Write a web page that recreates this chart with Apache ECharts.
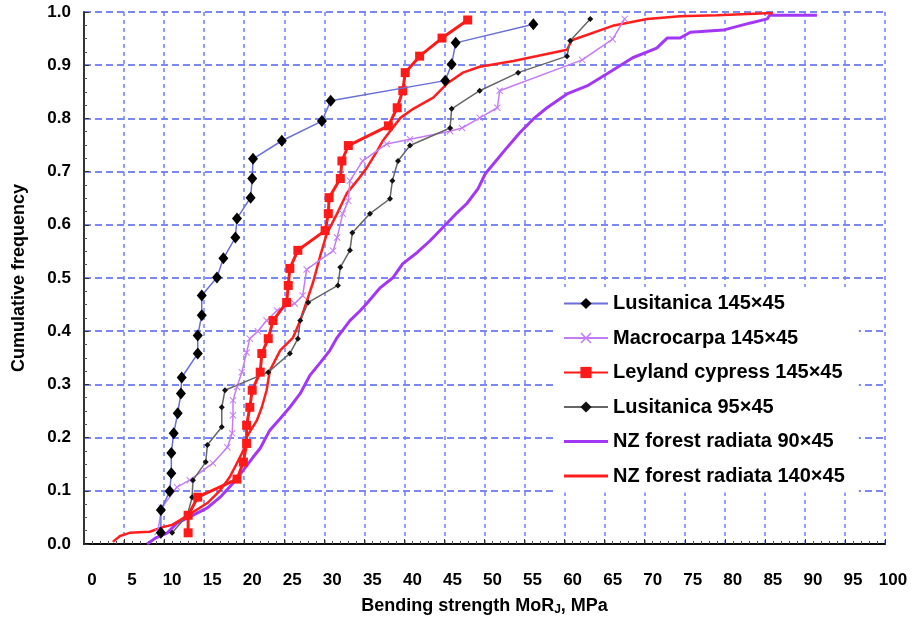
<!DOCTYPE html>
<html>
<head>
<meta charset="utf-8">
<script src="https://cdn.jsdelivr.net/npm/echarts@6/dist/echarts.min.js"></script>
<style>
  html, body { margin: 0; padding: 0; background: #fff; }
  #chart { width: 914px; height: 619px; }
</style>
</head>
<body>
<div id="chart"></div>
<script>
// series names (legend order)
const seriesNames = [
  'Lusitanica 145×45',
  'Macrocarpa 145×45',
  'Leyland cypress 145×45',
  'Lusitanica 95×45',
  'NZ forest radiata 90×45',
  'NZ forest radiata 140×45'
];

// [MoR (MPa), cumulative frequency]
const lusitanica145 = [[9.6,0.021],[9.6,0.064],[10.7,0.099],[10.9,0.133],[10.9,0.171],[11.2,0.208],[11.7,0.246],[12.1,0.283],[12.2,0.313],[14.2,0.358],[14.2,0.392],[14.7,0.430],[14.7,0.467],[16.6,0.501],[17.4,0.537],[18.9,0.576],[19.1,0.612],[20.8,0.651],[21.0,0.687],[21.1,0.724],[24.7,0.758],[29.7,0.795],[30.8,0.833],[45.1,0.871],[45.9,0.902],[46.4,0.942],[56.1,0.977]];

const macrocarpa145 = [[9.2,0.023],[9.7,0.068],[11.6,0.107],[13.2,0.120],[16.1,0.152],[17.9,0.182],[18.5,0.208],[18.6,0.242],[18.6,0.270],[19.1,0.295],[19.7,0.323],[20.3,0.360],[20.7,0.386],[21.7,0.400],[22.8,0.420],[24.1,0.439],[26.3,0.452],[27.3,0.467],[27.8,0.516],[31.1,0.551],[31.6,0.576],[32.3,0.621],[33.0,0.645],[33.2,0.683],[34.8,0.720],[37.8,0.752],[40.7,0.761],[45.7,0.776],[47.2,0.782],[49.4,0.801],[51.6,0.820],[51.9,0.852],[62.2,0.910],[66.0,0.949],[67.5,0.987]];

const leyland145 = [[13.0,0.021],[13.0,0.054],[14.2,0.088],[19.1,0.122],[19.9,0.154],[20.3,0.189],[20.3,0.223],[20.7,0.257],[21.0,0.289],[22.0,0.323],[22.2,0.358],[23.0,0.386],[23.6,0.420],[25.3,0.454],[25.5,0.486],[25.7,0.518],[26.7,0.552],[30.1,0.589],[30.5,0.621],[30.6,0.651],[32.0,0.687],[32.2,0.720],[33.0,0.749],[38.0,0.786],[39.1,0.820],[39.8,0.852],[40.1,0.886],[41.9,0.917],[44.7,0.951],[47.9,0.985]];

const lusitanica95 = [[11.0,0.021],[12.9,0.054],[13.5,0.088],[13.6,0.120],[15.2,0.154],[15.4,0.186],[17.2,0.220],[17.2,0.257],[17.6,0.289],[23.0,0.323],[25.7,0.358],[26.7,0.386],[27.0,0.420],[28.0,0.454],[31.7,0.486],[32.0,0.520],[33.2,0.552],[33.5,0.585],[35.7,0.621],[38.2,0.649],[38.5,0.683],[39.2,0.720],[40.7,0.749],[45.7,0.782],[45.9,0.818],[49.4,0.852],[54.2,0.886],[60.3,0.917],[60.7,0.946],[63.2,0.987]];

const nzRadiata90 = [[7.9,0.000],[8.9,0.011],[10.4,0.021],[11.6,0.039],[13.2,0.051],[15.4,0.068],[17.0,0.088],[18.6,0.114],[19.9,0.139],[21.1,0.163],[22.0,0.180],[23.2,0.214],[24.5,0.236],[25.7,0.257],[27.0,0.283],[28.2,0.317],[29.5,0.341],[30.7,0.364],[31.6,0.388],[33.2,0.420],[34.5,0.439],[35.3,0.452],[37.0,0.482],[38.6,0.501],[39.8,0.527],[41.6,0.548],[43.2,0.570],[44.8,0.595],[46.6,0.623],[47.8,0.640],[49.2,0.668],[50.1,0.696],[52.8,0.745],[54.4,0.773],[56.1,0.799],[57.8,0.820],[60.3,0.846],[62.8,0.861],[65.3,0.884],[68.5,0.914],[71.5,0.932],[72.8,0.951],[74.4,0.951],[75.7,0.962],[79.8,0.966],[83.1,0.979],[85.3,0.987],[85.6,0.994],[91.5,0.994]];

const nzRadiata140 = [[3.6,0.004],[4.5,0.015],[5.7,0.021],[8.2,0.023],[9.9,0.032],[11.0,0.036],[12.0,0.045],[13.6,0.060],[15.4,0.077],[17.0,0.101],[18.2,0.126],[19.1,0.152],[19.9,0.176],[20.3,0.201],[21.6,0.233],[22.2,0.257],[22.8,0.289],[23.2,0.326],[24.5,0.364],[26.1,0.388],[27.0,0.420],[28.6,0.492],[29.5,0.542],[30.3,0.583],[31.6,0.621],[32.8,0.659],[34.1,0.683],[35.3,0.707],[36.6,0.739],[37.3,0.758],[39.5,0.801],[41.1,0.818],[43.6,0.839],[45.3,0.865],[47.3,0.886],[49.4,0.897],[53.6,0.908],[60.3,0.929],[60.9,0.947],[66.0,0.974],[70.3,0.987],[74.4,0.992],[79.0,0.994],[86.0,0.998]];

const labelFont = "'Liberation Sans Narrow', 'Liberation Sans', Arial, sans-serif";
const crossSymbol = 'path://M0,1L1,0L5,4L9,0L10,1L6,5L10,9L9,10L5,6L1,10L0,9L4,5Z';
// plain line for the legend (tiny corner marks keep the 44x14 box)
const lineIcon = 'path://M0,5.5L44,5.5L44,8.5L0,8.5Z M0,0L0.01,0L0.01,0.01Z M44,14L43.99,14L43.99,13.99Z';

const myEcharts = echarts.init(document.getElementById('chart'));

let option = {
  backgroundColor: '#fff',
  animation: false,
  grid: {
    left: 84,
    right: 29,
    top: 12,
    bottom: 75,
    outerBoundsMode: 'none'
  },
  legend: {
    orient: 'vertical',
    left: 555,
    top: 287,
    padding: [6, 14, 6, 8],
    backgroundColor: '#fff',
    itemWidth: 44,
    itemHeight: 14,
    itemGap: 13.5,
    selectedMode: false,
    textStyle: {
      fontFamily: "'Liberation Sans', Arial, sans-serif",
      fontWeight: 'bold',
      fontSize: 20,
      color: '#000',
      lineHeight: 21
    },
    data: [
      seriesNames[0],
      seriesNames[1],
      seriesNames[2],
      seriesNames[3],
      { name: seriesNames[4], icon: lineIcon },
      { name: seriesNames[5], icon: lineIcon }
    ]
  },
  xAxis: [{
    type: 'value',
    min: 0,
    max: 100,
    interval: 5,
    name: 'Bending strength MoR{sub|J}, MPa',
    nameLocation: 'middle',
    nameGap: 52,
    nameTextStyle: {
      fontFamily: labelFont,
      fontWeight: 'bold',
      fontSize: 18,
      color: '#000',
      rich: {
        sub: { fontFamily: labelFont, fontWeight: 'bold', fontSize: 12, color: '#000', verticalAlign: 'bottom', padding: [8, 0, 0, 0] }
      }
    },
    axisLine: { onZero: false, lineStyle: { color: '#333', width: 2 } },
    axisTick: { inside: true, length: 5, lineStyle: { color: '#333' } },
    minorTick: { show: true, splitNumber: 5, length: 3, lineStyle: { color: '#555' } },
    axisLabel: {
      margin: 28,
      padding: [0, 0, 0, 16],
      fontFamily: labelFont,
      fontWeight: 'bold',
      fontSize: 17,
      color: '#000'
    },
    splitLine: { show: true, lineStyle: { color: '#7080f5', width: 1.5, type: [4, 4] } }
  }, {
    type: 'value',
    position: 'top',
    min: 0,
    max: 100,
    axisLine: { show: true, lineStyle: { color: '#000', width: 1.5 } },
    axisTick: { show: false },
    axisLabel: { show: false },
    splitLine: { show: false }
  }],
  yAxis: {
    type: 'value',
    min: 0,
    max: 1,
    interval: 0.1,
    name: 'Cumulative frequency',
    nameLocation: 'middle',
    nameGap: 56,
    nameTextStyle: {
      fontFamily: labelFont,
      fontWeight: 'bold',
      fontSize: 18,
      color: '#000'
    },
    axisLine: { show: true, lineStyle: { color: '#333', width: 2 } },
    axisTick: { show: true, inside: true, length: 5, lineStyle: { color: '#333' } },
    minorTick: { show: true, splitNumber: 4, length: 3, lineStyle: { color: '#555' } },
    axisLabel: {
      margin: 13,
      fontFamily: labelFont,
      fontWeight: 'bold',
      fontSize: 17,
      color: '#000',
      formatter: v => v.toFixed(1)
    },
    splitLine: { show: true, lineStyle: { color: '#5060ee', width: 1.5, type: [7, 4] } }
  },
  series: [
    {
      name: seriesNames[4],
      type: 'line',
      data: nzRadiata90,
      symbol: 'none',
      lineStyle: { color: '#a238f5', width: 3 },
      itemStyle: { color: '#a238f5' },
      z: 2
    },
    {
      name: seriesNames[5],
      type: 'line',
      data: nzRadiata140,
      symbol: 'none',
      lineStyle: { color: '#ff1e1e', width: 2.5 },
      itemStyle: { color: '#ff1e1e' },
      z: 2
    },
    {
      name: seriesNames[1],
      type: 'line',
      data: macrocarpa145,
      symbol: crossSymbol,
      symbolSize: 7,
      lineStyle: { color: '#c47cf6', width: 1.5 },
      itemStyle: { color: '#c47cf6' },
      z: 3
    },
    {
      name: seriesNames[3],
      type: 'line',
      data: lusitanica95,
      symbol: 'diamond',
      symbolSize: 6,
      lineStyle: { color: '#666', width: 1.5 },
      itemStyle: { color: '#111' },
      z: 3
    },
    {
      name: seriesNames[2],
      type: 'line',
      data: leyland145,
      symbol: 'rect',
      symbolSize: 9,
      lineStyle: { color: '#ff1a1a', width: 3 },
      itemStyle: { color: '#ff1a1a' },
      z: 4
    },
    {
      name: seriesNames[0],
      type: 'line',
      data: lusitanica145,
      symbol: 'diamond',
      symbolSize: [10, 12],
      lineStyle: { color: '#6a6fd8', width: 1.5 },
      itemStyle: { color: '#000' },
      z: 5
    }
  ]
};

myEcharts.setOption(option);
</script>
</body>
</html>
